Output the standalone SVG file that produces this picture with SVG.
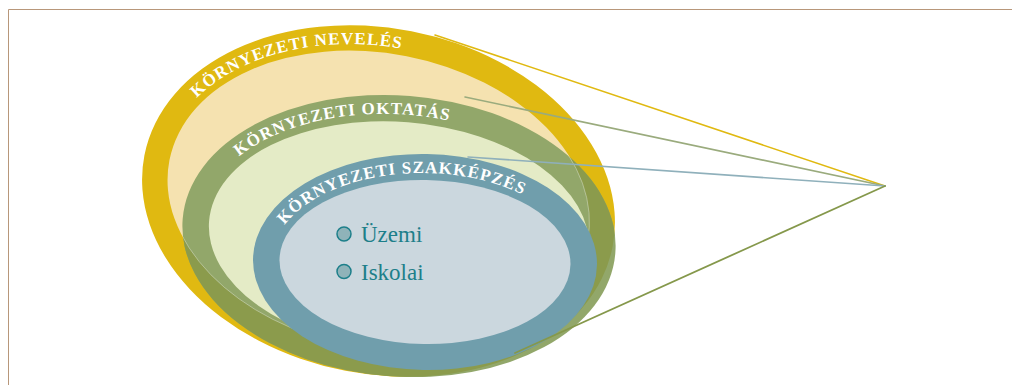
<svg xmlns="http://www.w3.org/2000/svg" xmlns:xlink="http://www.w3.org/1999/xlink" width="1012" height="385" viewBox="0 0 1012 385">
  <style>
    .ring-label { font-family: "Liberation Serif", "DejaVu Serif", serif; font-weight: bold; font-size: 17px; fill: #ffffff; letter-spacing: 1.1px; }
    .item { font-family: "Liberation Serif", "DejaVu Serif", serif; font-size: 23px; fill: #1d7f8a; }
    .bullet { fill: #8fb3b9; stroke: #1d7f8a; stroke-width: 1.5; }
    .frame { stroke: #b8977a; stroke-width: 1; fill: none; }
    .link { fill: none; stroke-linecap: round; }
    .seam { fill: none; stroke: #ffffff; stroke-opacity: 0.45; stroke-width: 0.7; }
  </style>
  <defs>
    <!-- text baselines, local to each ellipse's centre -->
    <path id="arc-neveles" d="M -219.5,0 A 219.5,154 0 0 1 219.5,0"/>
    <path id="arc-oktatas" d="M -197.5,0 A 197.5,120.5 0 0 1 197.5,0"/>
    <path id="arc-szak" d="M -153,0 A 153,89 0 0 1 153,0"/>
    <!-- band of the outer (yellow) ring -->
    <clipPath id="yellow-band">
      <path clip-rule="evenodd" transform="translate(378.5,201) rotate(11)"
            d="M -238.5,0 A 238.5,173 0 1 0 238.5,0 A 238.5,173 0 1 0 -238.5,0 Z M -213,0 A 213,147.5 0 1 0 213,0 A 213,147.5 0 1 0 -213,0 Z"/>
    </clipPath>
    <!-- band of the middle (green) ring -->
    <clipPath id="green-band">
      <path clip-rule="evenodd" transform="translate(399,236) rotate(4.5)"
            d="M -217,0 A 217,140.5 0 1 0 217,0 A 217,140.5 0 1 0 -217,0 Z M -190.5,0 A 190.5,114 0 1 0 190.5,0 A 190.5,114 0 1 0 -190.5,0 Z"/>
    </clipPath>
  </defs>

  <!-- frame -->
  <path class="frame" d="M 8.5,385 L 8.5,9.5 L 1012,9.5"/>

  <!-- outer ring -->
  <g id="node-neveles">
    <g transform="translate(378.5,201) rotate(11)">
      <ellipse cx="0" cy="0" rx="238.5" ry="173" fill="#e0b911"/>
      <ellipse cx="0" cy="0" rx="213" ry="147.5" fill="#f5e2b0"/>
    </g>
  </g>

  <!-- middle ring -->
  <g id="node-oktatas">
    <g transform="translate(399,236) rotate(4.5)">
      <ellipse cx="0" cy="0" rx="217" ry="140.5" fill="#92a76a"/>
      <ellipse cx="0" cy="0" rx="190.5" ry="114" fill="#e4ebc6"/>
    </g>
    <!-- darker where the band lies over the outer ring -->
    <g clip-path="url(#yellow-band)">
      <g clip-path="url(#green-band)">
        <rect x="0" y="0" width="1012" height="385" fill="#8b9b4c"/>
      </g>
    </g>
    <g clip-path="url(#green-band)">
      <ellipse class="seam" cx="0" cy="0" rx="213" ry="147.5" transform="translate(378.5,201) rotate(11)"/>
    </g>
  </g>

  <!-- inner ring -->
  <g id="node-szakkepzes">
    <g transform="translate(425,262) rotate(1)">
      <ellipse cx="0" cy="0" rx="172" ry="108" fill="#709eac"/>
      <ellipse cx="0" cy="0" rx="145.5" ry="82" fill="#cbd7de"/>
    </g>
    <circle class="bullet" cx="344" cy="234" r="7"/>
    <text class="item" x="361" y="242">Üzemi</text>
    <circle class="bullet" cx="344" cy="271.5" r="7"/>
    <text class="item" x="361" y="280">Iskolai</text>
  </g>

  <!-- ring labels -->
  <g transform="translate(378.5,201) rotate(11)">
    <text class="ring-label" text-anchor="middle"><textPath xlink:href="#arc-neveles" href="#arc-neveles" startOffset="180">KÖRNYEZETI NEVELÉS</textPath></text>
  </g>
  <g transform="translate(399,235) rotate(4.5)">
    <text class="ring-label" text-anchor="middle"><textPath xlink:href="#arc-oktatas" href="#arc-oktatas" startOffset="185">KÖRNYEZETI OKTATÁS</textPath></text>
  </g>
  <g transform="translate(425,262) rotate(1)">
    <text class="ring-label" text-anchor="middle"><textPath xlink:href="#arc-szak" href="#arc-szak" startOffset="165">KÖRNYEZETI SZAKKÉPZÉS</textPath></text>
  </g>

  <!-- connectors converging on the focal point -->
  <g id="connectors">
    <line class="link" x1="885" y1="186" x2="435" y2="35" stroke="#e0b911" stroke-width="1.6"/>
    <line class="link" x1="885" y1="186" x2="465" y2="97" stroke="#9aab7d" stroke-width="1.6"/>
    <line class="link" x1="885" y1="186" x2="468" y2="157" stroke="#8fb0bb" stroke-width="1.6"/>
    <line class="link" x1="885" y1="186" x2="515" y2="353" stroke="#85984b" stroke-width="1.8"/>
  </g>
</svg>
